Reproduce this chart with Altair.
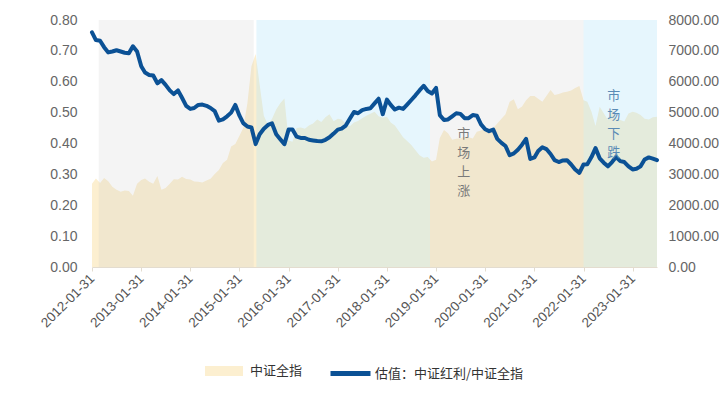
import altair as alt
import pandas as pd

# ---------------- data ----------------
first_month_end = "2012-01-31"
n_months = 139
dates = (pd.date_range("2012-02-01", periods=n_months, freq="MS") - pd.Timedelta(days=1)).strftime("%Y-%m-%d").tolist()

ratio = [
    0.760, 0.735, 0.733, 0.712, 0.695, 0.698, 0.702, 0.698, 0.694, 0.692, 0.715, 0.698,
    0.650, 0.630, 0.622, 0.620, 0.595, 0.605, 0.590, 0.572, 0.560, 0.572, 0.548, 0.522,
    0.512, 0.515, 0.525, 0.526, 0.522, 0.515, 0.505, 0.474, 0.478, 0.488, 0.500, 0.525,
    0.490, 0.466, 0.455, 0.452, 0.398, 0.430, 0.448, 0.460, 0.465, 0.430, 0.414, 0.398,
    0.445, 0.445, 0.422, 0.418, 0.418, 0.412, 0.410, 0.408, 0.407, 0.412, 0.420, 0.432,
    0.445, 0.448, 0.458, 0.480, 0.502, 0.498, 0.508, 0.512, 0.514, 0.530, 0.545, 0.495,
    0.542, 0.525, 0.510, 0.516, 0.512, 0.526, 0.541, 0.556, 0.572, 0.587, 0.570, 0.562,
    0.580, 0.492, 0.476, 0.478, 0.488, 0.498, 0.496, 0.482, 0.482, 0.492, 0.490, 0.462,
    0.446, 0.440, 0.445, 0.415, 0.402, 0.392, 0.362, 0.368, 0.380, 0.396, 0.415, 0.350,
    0.355, 0.376, 0.388, 0.382, 0.366, 0.346, 0.340, 0.345, 0.346, 0.332, 0.316, 0.305,
    0.332, 0.333, 0.356, 0.385, 0.352, 0.338, 0.326, 0.340, 0.356, 0.343, 0.340, 0.326,
    0.316, 0.318, 0.326, 0.348, 0.355, 0.351, 0.346,
]

index_level = [
    2700, 2870, 2720, 2880, 2780, 2600, 2500, 2440, 2480, 2460, 2310, 2700,
    2820, 2870, 2760, 2700, 2950, 2500, 2560, 2700, 2840, 2830, 2920, 2850,
    2830, 2770, 2760, 2740, 2800, 2860, 3010, 3140, 3370, 3470, 3900, 3980,
    4250, 4500, 5300, 6500, 6900, 5900, 4900, 4600, 4800, 5100, 5300, 5460,
    4100, 4060, 4500, 4520, 4480, 4580, 4650, 4780, 4700, 4850, 4950, 4720,
    4800, 4780, 4650, 4560, 4680, 4730, 4820, 4900, 4960, 5030, 4880, 4830,
    4870, 4680, 4580, 4400, 4200, 4080, 3950, 3780, 3620, 3540, 3560, 3420,
    3470, 4180, 4440, 4330, 4120, 4150, 4170, 4220, 4200, 4160, 4380, 4420,
    4490, 4460, 4500, 4650, 4800, 4950, 5350, 5430, 5110, 5200, 5400, 5540,
    5540, 5450, 5354, 5540, 5730, 5570, 5600, 5650, 5680, 5720, 5800, 5860,
    5400, 5350, 5030, 4570, 5190, 4980, 4760, 5140, 4820, 4760, 4710, 4975,
    5030, 5000, 4925, 4800, 4780, 4850, 4870,
]

series_area = "中证全指"
series_line = "估值：中证红利/中证全指"

band_start = ["2012-03-21", "2015-06-06", "2018-12-17", "2022-01-31"]
band_end = ["2015-05-17", "2018-12-17", "2022-01-31", "2023-07-31"]
band_kind = ["gray", "blue", "gray", "blue"]

ann_text = ["市\n场\n上\n涨", "市\n场\n下\n跌"]
ann_date = ["2019-08-25", "2022-09-12"]
ann_value = [0.430, 0.554]

x_ticks = [f"{y}-01-31" for y in range(2012, 2024)]
left_ticks = [0, 0.1, 0.2, 0.3, 0.4, 0.5, 0.6, 0.7, 0.8]
right_ticks = [0, 1000, 2000, 3000, 4000, 5000, 6000, 7000, 8000]

# ---------------- tables ----------------
df = pd.DataFrame({
    "date": dates,
    "ratio": ratio,
    "level": index_level,
    "s_area": series_area,
    "s_line": series_line,
})
bands = pd.DataFrame({"start": band_start, "end": band_end, "kind": band_kind})
ann = pd.DataFrame({"adate": ann_date, "aval": ann_value, "atext": ann_text, "k": [0, 1]})


def ms(s):
    return int(pd.Timestamp(s).value // 10**6)


x_scale = alt.Scale(type="utc", domain=[ms(dates[0]), ms(dates[-1])], nice=False, padding=0)
x_axis = alt.Axis(
    values=[ms(t) for t in x_ticks],
    labelExpr="utcFormat(datum.value, '%Y-%m-%d')",
    labelAngle=-45, labelAlign="right", labelBaseline="middle",
    labelFontSize=13.5, labelColor="#555555", labelFont="Liberation Sans",
    domainColor="#e3dccf", tickColor="#e3dccf", tickSize=4, grid=False, title=None,
    labelPadding=5, labelOverlap=False,
)

left_scale = alt.Scale(domain=[0, 0.8], nice=False)
left_axis = alt.Axis(
    values=left_ticks, format=".2f", orient="left", ticks=False, domain=False, grid=False,
    labelFontSize=14, labelColor="#666666", labelFont="Liberation Sans", labelPadding=15, title=None,
)
right_scale = alt.Scale(domain=[0, 8000], nice=False)
right_axis = alt.Axis(
    values=right_ticks, format=".2f", orient="right", ticks=False, domain=False, grid=False,
    labelFontSize=14, labelColor="#666666", labelFont="Liberation Sans", labelPadding=11, title=None,
)

area = alt.Chart(df).mark_area(interpolate="linear").encode(
    x=alt.X("date:T", scale=x_scale, axis=x_axis),
    y=alt.Y("level:Q", scale=right_scale, axis=right_axis),
    fill=alt.Fill(
        "s_area:N",
        scale=alt.Scale(domain=[series_area], range=["#fcefd0"]),
        legend=alt.Legend(
            orient="none", legendX=113, legendY=332, title=None, padding=0,
            symbolType="M-1,-0.26L1,-0.26L1,0.26L-1,0.26Z", symbolSize=1444,
            symbolStrokeWidth=0, symbolOpacity=1,
            labelFont="Noto Sans CJK SC", labelFontSize=13, labelColor="#333333", labelOffset=7,
        ),
    ),
)

band_gray = alt.Chart(bands).transform_filter(alt.datum.kind == "gray").mark_rect(
    color="#c8c8c8", opacity=0.2
).encode(
    x=alt.X("start:T", scale=x_scale, axis=x_axis),
    x2="end:T",
)
band_blue = alt.Chart(bands).transform_filter(alt.datum.kind == "blue").mark_rect(
    color="#ade2f7", opacity=0.3
).encode(
    x=alt.X("start:T", scale=x_scale, axis=x_axis),
    x2="end:T",
)

line = alt.Chart(df).mark_line(strokeWidth=4, strokeJoin="round", strokeCap="round").encode(
    x=alt.X("date:T", scale=x_scale, axis=x_axis),
    y=alt.Y("ratio:Q", scale=left_scale, axis=left_axis),
    stroke=alt.Stroke(
        "s_line:N",
        scale=alt.Scale(domain=[series_line], range=["#0b5195"]),
        legend=alt.Legend(
            orient="none", legendX=236, legendY=331, title=None, padding=0,
            symbolType="stroke", symbolSize=1600, symbolStrokeWidth=5,
            labelFont="Noto Sans CJK SC", labelFontSize=13, labelColor="#333333", labelOffset=2,
        ),
    ),
)

text_up = alt.Chart(ann).transform_filter(alt.datum.k == 0).mark_text(
    lineBreak="\n", lineHeight=19, fontSize=13, color="#7a7a7a", font="Noto Sans CJK SC",
    baseline="middle", align="center",
).encode(
    x=alt.X("adate:T", scale=x_scale, axis=x_axis),
    y=alt.Y("aval:Q", scale=left_scale, axis=left_axis),
    text="atext:N",
)
text_down = alt.Chart(ann).transform_filter(alt.datum.k == 1).mark_text(
    lineBreak="\n", lineHeight=19, fontSize=13, color="#5a8ab5", font="Noto Sans CJK SC",
    baseline="middle", align="center",
).encode(
    x=alt.X("adate:T", scale=x_scale, axis=x_axis),
    y=alt.Y("aval:Q", scale=left_scale, axis=left_axis),
    text="atext:N",
)

left_layer = alt.layer(line, text_up, text_down)

chart = alt.layer(area, band_gray, band_blue, left_layer).resolve_scale(
    y="independent"
).properties(
    width=565, height=247,
    padding={"left": 84, "top": 12, "right": 62, "bottom": 123},
    autosize=alt.AutoSizeParams(type="none"),
).configure_view(stroke=None)

chart.save("out.html", embed_options={"renderer": "svg", "actions": False})
